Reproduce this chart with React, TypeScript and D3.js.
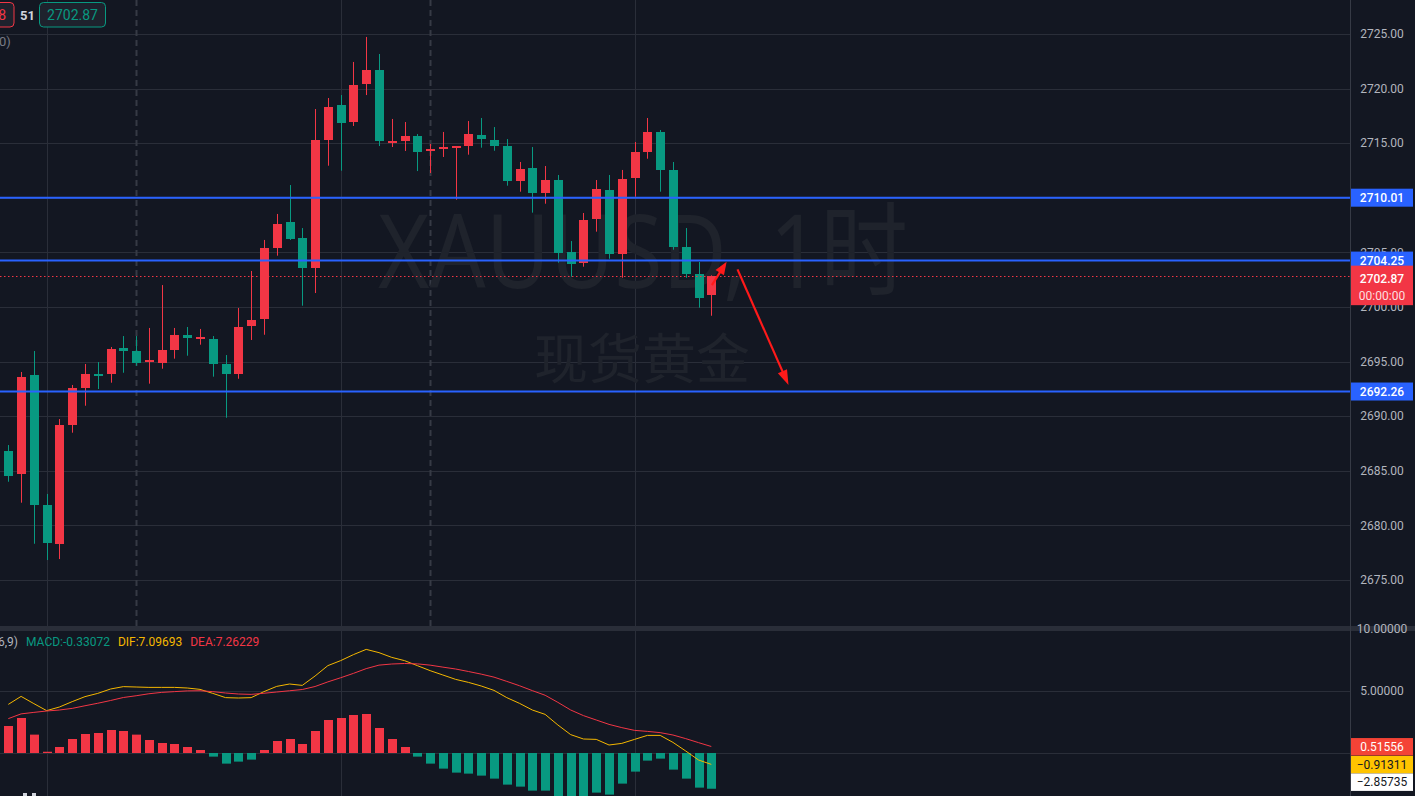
import React from 'react';
import * as d3 from 'd3';

const W = 1415;
const H = 796;

// ---- candle data (1h XAUUSD) ----
const opens = [2686.8, 2684.73, 2693.77, 2681.87, 2678.32, 2689.19, 2692.58, 2693.9, 2693.89, 2696.25, 2695.97, 2695.0, 2694.9, 2696.09, 2697.44, 2697.1, 2697.07, 2694.78, 2693.89, 2698.29, 2698.93, 2705.4, 2707.78, 2706.32, 2703.57, 2715.29, 2718.5, 2716.94, 2720.45, 2721.7, 2715.1, 2715.2, 2715.66, 2714.42, 2714.47, 2714.6, 2714.77, 2715.75, 2715.29, 2714.74, 2711.57, 2712.73, 2710.47, 2711.63, 2705.04, 2704.06, 2708.09, 2710.71, 2704.88, 2711.84, 2714.22, 2716.03, 2712.55, 2705.49, 2703.02, 2701.13];
const highs = [2687.36, 2694.05, 2695.97, 2682.88, 2689.74, 2692.86, 2694.78, 2694.96, 2696.34, 2697.34, 2697.34, 2698.08, 2702.01, 2698.08, 2698.17, 2697.99, 2697.34, 2695.6, 2699.91, 2703.3, 2706.14, 2708.52, 2711.17, 2707.23, 2718.13, 2719.14, 2719.41, 2722.44, 2724.73, 2723.17, 2717.22, 2716.94, 2715.84, 2714.93, 2716.03, 2714.74, 2717.03, 2717.31, 2716.48, 2715.38, 2713.28, 2714.65, 2712.91, 2712.09, 2706.04, 2708.61, 2711.63, 2712.09, 2712.55, 2715.11, 2717.31, 2716.21, 2713.28, 2707.23, 2704.12, 2702.9];
const lows = [2684.0, 2682.08, 2678.32, 2676.83, 2676.92, 2688.49, 2690.96, 2692.49, 2693.07, 2693.98, 2694.62, 2692.98, 2694.35, 2695.27, 2695.54, 2696.55, 2693.62, 2689.86, 2693.43, 2696.98, 2697.46, 2704.7, 2706.14, 2700.12, 2701.28, 2712.94, 2712.48, 2716.58, 2719.41, 2714.74, 2714.65, 2714.29, 2712.45, 2712.27, 2713.74, 2709.83, 2713.95, 2714.59, 2714.31, 2711.11, 2710.56, 2708.64, 2709.46, 2704.06, 2702.77, 2703.69, 2706.9, 2704.42, 2702.68, 2710.1, 2713.58, 2710.56, 2705.25, 2702.68, 2699.94, 2699.2];
const closes = [2684.55, 2693.59, 2681.87, 2678.39, 2689.19, 2692.58, 2693.86, 2693.65, 2696.15, 2696.0, 2694.9, 2695.15, 2696.06, 2697.44, 2697.19, 2697.22, 2694.81, 2693.89, 2698.17, 2698.81, 2705.4, 2707.6, 2706.23, 2703.57, 2715.29, 2718.32, 2716.85, 2720.33, 2721.7, 2715.2, 2715.22, 2715.66, 2714.19, 2714.5, 2714.65, 2714.72, 2715.84, 2715.41, 2714.77, 2711.57, 2712.64, 2710.47, 2711.63, 2704.97, 2703.97, 2707.97, 2710.81, 2704.88, 2711.72, 2714.19, 2716.03, 2712.57, 2705.52, 2703.05, 2700.85, 2702.87];

// ---- MACD(12,26,9) ----
const difValues = [3.89, 4.53, 3.95, 3.39, 3.68, 4.11, 4.51, 4.77, 5.12, 5.31, 5.28, 5.25, 5.25, 5.25, 5.2, 5.09, 4.77, 4.43, 4.4, 4.43, 4.91, 5.33, 5.52, 5.41, 6.16, 6.99, 7.39, 7.87, 8.29, 8.03, 7.65, 7.39, 6.99, 6.59, 6.24, 5.89, 5.65, 5.36, 5.01, 4.43, 3.97, 3.44, 3.09, 2.24, 1.47, 1.12, 1.09, 0.64, 0.77, 1.09, 1.41, 1.41, 0.85, 0.16, -0.56, -0.91];
const deaValues = [2.75, 3.13, 3.25, 3.36, 3.44, 3.57, 3.78, 3.98, 4.2, 4.44, 4.58, 4.74, 4.85, 4.91, 4.97, 4.98, 4.91, 4.8, 4.72, 4.69, 4.78, 4.88, 4.98, 5.08, 5.32, 5.69, 6.02, 6.37, 6.75, 7.03, 7.12, 7.16, 7.13, 7.03, 6.87, 6.72, 6.52, 6.31, 6.07, 5.73, 5.38, 4.99, 4.62, 4.05, 3.44, 2.99, 2.64, 2.29, 2.03, 1.81, 1.73, 1.63, 1.44, 1.15, 0.83, 0.52];
const macdValues = [2.16, 2.8, 1.47, 0.1, 0.48, 1.12, 1.52, 1.6, 1.84, 1.76, 1.47, 1.04, 0.8, 0.72, 0.48, 0.24, -0.29, -0.85, -0.69, -0.53, 0.24, 0.96, 1.12, 0.72, 1.76, 2.64, 2.8, 3.04, 3.12, 2.0, 1.12, 0.48, -0.29, -0.85, -1.25, -1.57, -1.65, -1.81, -2.05, -2.53, -2.69, -3.01, -3.01, -3.62, -3.94, -3.74, -3.17, -3.33, -2.45, -1.49, -0.61, -0.45, -1.33, -2.05, -2.77, -2.86];

// ---- axes / annotations ----
const priceTicks = [2675, 2680, 2685, 2690, 2695, 2700, 2705, 2710, 2715, 2720, 2725];
const macdGridTicks = [0, 5, 10];
const macdAxisLabels = [10, 5];
const levelLines = [2710.01, 2704.25, 2692.26];
const lastPrice = 2702.87;
const lastDea = 0.51556;
const lastDif = -0.91311;
const lastMacd = -2.85735;
const gridCandleIdx = [3, 26, 49];
const sessionBreakIdx = [10, 33];
const arrowFrom = [[55.05, 2702.0], [57.05, 2703.45]];
const arrowTo = [[56.2, 2704.15], [61.04, 2692.86]];

const C = {
  bg: '#131722',
  grid: '#2a2e39',
  up: '#f23645',
  down: '#089981',
  blue: '#2962ff',
  text: '#b2b5be',
  dif: '#f5b700',
  dea: '#f23645',
};

const PLOT_R = 1350;
const MAIN_B = 626;
const MACD_T = 631;

const AX = "Roboto, 'Noto Sans', sans-serif";

export default function App() {
  const x = d3.scaleLinear().domain([0, 55]).range([8.3, 711.3]);
  const y = d3.scaleLinear().domain([2675, 2725]).range([580, 34]);
  const ym = d3.scaleLinear().domain([0, 10]).range([753, 628]);
  const fmt2 = d3.format('.2f');
  const fmt5 = d3.format('.5f');

  const difLine = d3.line<number>().x((_, i) => x(i)).y((v) => ym(v))(difValues) || '';
  const deaLine = d3.line<number>().x((_, i) => x(i)).y((v) => ym(v))(deaValues) || '';

  const arrowEls = arrowFrom.map((f, k) => {
    const t = arrowTo[k];
    const x1 = x(f[0]), y1 = y(f[1]), x2 = x(t[0]), y2 = y(t[1]);
    const ang = Math.atan2(y2 - y1, x2 - x1);
    const hl = k === 0 ? 13 : 15;
    const hw = 5;
    const bx = x2 - hl * Math.cos(ang), by = y2 - hl * Math.sin(ang);
    const px = -Math.sin(ang), py = Math.cos(ang);
    const pts = `${x2},${y2} ${bx + px * hw},${by + py * hw} ${bx - px * hw},${by - py * hw}`;
    return (
      <g key={k}>
        <line x1={x1} y1={y1} x2={bx + (x2 - bx) * 0.3} y2={by + (y2 - by) * 0.3} stroke="#ff1a1a" strokeWidth={2.2} />
        <polygon points={pts} fill="#ff1a1a" />
      </g>
    );
  });

  return (
    <svg width={W} height={H} style={{ position: 'fixed', left: 0, top: 0, background: C.bg }}>
      <defs>
        <clipPath id="mainClip"><rect x={0} y={0} width={PLOT_R} height={MAIN_B} /></clipPath>
        <clipPath id="macdClip"><rect x={0} y={MACD_T} width={PLOT_R} height={H - MACD_T} /></clipPath>
      </defs>
      <rect x={0} y={0} width={W} height={H} fill={C.bg} />

      {/* main pane */}
      <g clipPath="url(#mainClip)">
        {priceTicks.map((p) => (
          <line key={p} x1={0} x2={PLOT_R} y1={Math.round(y(p)) + 0.5} y2={Math.round(y(p)) + 0.5} stroke={C.grid} strokeWidth={1} />
        ))}
        {gridCandleIdx.map((i) => (
          <line key={i} x1={Math.round(x(i)) + 0.5} x2={Math.round(x(i)) + 0.5} y1={0} y2={MAIN_B} stroke={C.grid} strokeWidth={1} />
        ))}
        {sessionBreakIdx.map((i) => (
          <line key={i} x1={Math.round(x(i)) + 0.5} x2={Math.round(x(i)) + 0.5} y1={0} y2={MAIN_B} stroke="#363a45" strokeWidth={2} strokeDasharray="6,4" />
        ))}

        {/* watermark */}
        <text x={643} y={288} textAnchor="middle" fontFamily="'Noto Sans', 'Noto Sans CJK SC', sans-serif" fontSize={102} fill="#1f232c" textLength={530} lengthAdjust="spacingAndGlyphs">XAUUSD, 1时</text>
        <text x={642} y={379} textAnchor="middle" fontFamily="'Noto Sans CJK SC', sans-serif" fontSize={54} fill="#1f232c">现货黄金</text>

        {/* candles */}
        {closes.map((c, i) => {
          const o = opens[i];
          const up = c >= o;
          const col = up ? C.up : C.down;
          const cx = Math.round(x(i));
          const top = Math.round(y(Math.max(o, c)));
          const bot = Math.round(y(Math.min(o, c)));
          return (
            <g key={i}>
              <rect x={cx} y={y(highs[i])} width={1} height={y(lows[i]) - y(highs[i])} fill={col} />
              <rect x={cx - 4} y={top} width={9} height={Math.max(2, bot - top)} fill={col} />
            </g>
          );
        })}

        {/* level lines */}
        {levelLines.map((p) => (
          <line key={p} x1={0} x2={PLOT_R} y1={y(p)} y2={y(p)} stroke={C.blue} strokeWidth={2} />
        ))}
        <line x1={0} x2={PLOT_R} y1={Math.round(y(lastPrice)) + 0.5} y2={Math.round(y(lastPrice)) + 0.5} stroke={C.up} strokeWidth={1} strokeDasharray="1.5,2.5" />

        {arrowEls}

        {/* header */}
        <rect x={-10} y={2.5} width={24} height={24.5} rx={4} fill="#1e222d" stroke={C.up} strokeWidth={1} />
        <text x={6} y={19.5} textAnchor="end" fontFamily={AX} fontSize={14} fill={C.up}>8</text>
        <text x={20} y={19.5} fontFamily={AX} fontSize={13} fontWeight={700} fill="#d1d4dc">51</text>
        <rect x={39.5} y={2.5} width={66} height={24.5} rx={4} fill="#1e222d" stroke={C.down} strokeWidth={1} />
        <text x={72.5} y={20} textAnchor="middle" fontFamily={AX} fontSize={14} fill={C.down}>2702.87</text>
        <text x={-1} y={46} fontFamily={AX} fontSize={13} fill="#787b86">0)</text>
      </g>

      {/* pane separator */}
      <rect x={0} y={MAIN_B} width={W} height={MACD_T - MAIN_B} fill="#2a2e39" />

      {/* MACD pane */}
      <g clipPath="url(#macdClip)">
        {macdGridTicks.map((v) => (
          <line key={v} x1={0} x2={PLOT_R} y1={Math.round(ym(v)) + 0.5} y2={Math.round(ym(v)) + 0.5} stroke={C.grid} strokeWidth={1} />
        ))}
        {gridCandleIdx.map((i) => (
          <line key={i} x1={Math.round(x(i)) + 0.5} x2={Math.round(x(i)) + 0.5} y1={MACD_T} y2={H} stroke={C.grid} strokeWidth={1} />
        ))}
        {macdValues.map((v, i) => {
          const cx = Math.round(x(i));
          const y0 = ym(0);
          const yv = ym(v);
          return (
            <rect key={i} x={cx - 4} y={Math.min(y0, yv)} width={9} height={Math.max(1, Math.abs(yv - y0))} fill={v >= 0 ? C.up : C.down} />
          );
        })}
        <path d={difLine} fill="none" stroke={C.dif} strokeWidth={1} />
        <path d={deaLine} fill="none" stroke={C.dea} strokeWidth={1} />
        <text x={-2} y={646} fontFamily={AX} fontSize={12}>
          <tspan fill={C.text}>6,9)</tspan>
          <tspan fill={C.down} dx={8}>MACD:-0.33072</tspan>
          <tspan fill={C.dif} dx={8}>DIF:7.09693</tspan>
          <tspan fill={C.dea} dx={8}>DEA:7.26229</tspan>
        </text>
        <rect x={23} y={793} width={4} height={3} fill="#d1d4dc" />
        <rect x={32} y={793} width={4} height={3} fill="#d1d4dc" />
      </g>

      {/* price axis */}
      <line x1={PLOT_R + 0.5} x2={PLOT_R + 0.5} y1={0} y2={H} stroke="#363a45" strokeWidth={1} />
      {priceTicks.map((p) => (
        <text key={p} x={1382} y={y(p)} dy="0.35em" textAnchor="middle" fontFamily={AX} fontSize={12} fill={C.text}>{fmt2(p)}</text>
      ))}
      {levelLines.map((p) => (
        <g key={p}>
          <rect x={1351} y={y(p) - 9} width={62} height={18} fill={C.blue} />
          <text x={1382} y={y(p)} dy="0.36em" textAnchor="middle" fontFamily={AX} fontSize={12} fontWeight={500} fill="#ffffff">{fmt2(p)}</text>
        </g>
      ))}
      <rect x={1351} y={y(lastPrice) - 10} width={62} height={39.5} fill={C.up} />
      <text x={1382} y={y(lastPrice) + 3} dy="0.35em" textAnchor="middle" fontFamily={AX} fontSize={12} fontWeight={500} fill="#ffffff">{fmt2(lastPrice)}</text>
      <text x={1382} y={y(lastPrice) + 20} dy="0.35em" textAnchor="middle" fontFamily={AX} fontSize={12} fill="#ffffff" fillOpacity={0.85}>00:00:00</text>

      {macdAxisLabels.map((v) => (
        <text key={v} x={1382} y={ym(v) + 0.5} dy="0.35em" textAnchor="middle" fontFamily={AX} fontSize={12} fill={C.text}>{fmt5(v)}</text>
      ))}
      <rect x={1351} y={ym(lastDea) - 8.5} width={62} height={17.5} fill="#f44336" />
      <text x={1382} y={ym(lastDea)} dy="0.35em" textAnchor="middle" fontFamily={AX} fontSize={12} fill="#ffffff">{fmt5(lastDea)}</text>
      <rect x={1351} y={ym(lastDif) - 8.5} width={62} height={17.5} fill="#ffc400" />
      <text x={1382} y={ym(lastDif)} dy="0.35em" textAnchor="middle" fontFamily={AX} fontSize={12} fill="#131722">{fmt5(lastDif)}</text>
      <rect x={1351} y={ym(lastDif) + 9} width={62} height={17.5} fill="#ffffff" />
      <text x={1382} y={ym(lastDif) + 17.5} dy="0.35em" textAnchor="middle" fontFamily={AX} fontSize={12} fill="#131722">{fmt5(lastMacd)}</text>
    </svg>
  );
}
